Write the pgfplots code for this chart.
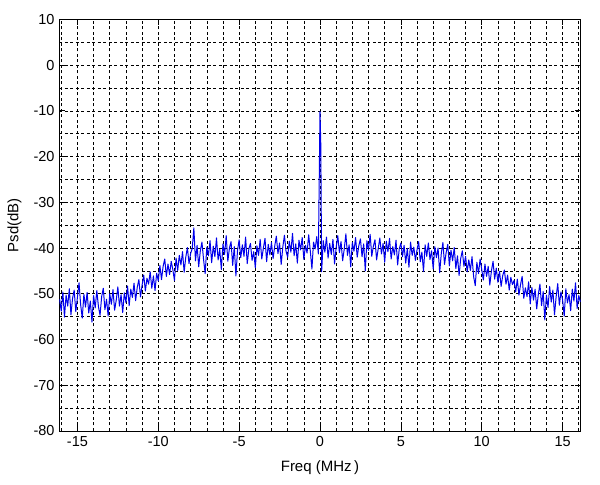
\documentclass[border=0pt]{standalone}
\usepackage{pgfplots}
\pgfplotsset{compat=1.18}
\usepackage{fontspec}
\setmainfont{Liberation Sans}
\begin{document}
\begin{tikzpicture}
\useasboundingbox (0,0) rectangle (600bp,485bp);
\begin{axis}[
  at={(59.3bp,54bp)}, anchor=south west,
  scale only axis, width=521.4bp, height=411.7bp,
  xmin=-16.12, xmax=16.12, ymin=-80, ymax=10,
  xtick={-15,-10,...,15}, ytick={-80,-70,...,10},
  minor xtick={-16,-14,-13,-12,-11,-9,-8,-7,-6,-4,-3,-2,-1,1,2,3,4,6,7,8,9,11,12,13,14,16},
  minor ytick={-75,-65,...,5},
  grid=both,
  major grid style={black, dash pattern=on 3bp off 2.5bp, line width=0.55bp},
  minor grid style={black, dash pattern=on 3bp off 2.5bp, line width=0.55bp},
  tick align=inside, xtick pos=both, ytick pos=both,
  major tick length=5.5bp, minor tick length=0bp,
  axis line style={black, line width=0.7bp},
  tick style={black, line width=0.7bp},
  /pgf/number format/assume math mode=true,
  ticklabel style={font=\fontsize{14.5bp}{16bp}\selectfont},
  xticklabel style={yshift=-2bp},
  yticklabel style={xshift=-1.3bp},
  xlabel={Freq (MHz\,)}, ylabel={Psd(dB)},
  label style={font=\fontsize{15bp}{17bp}\selectfont},
  xlabel style={at={(axis description cs:0.5,-0.0972)}, anchor=base},
  ylabel style={at={(axis description cs:-0.0786,0.5)}, anchor=base, rotate=0},
]
\addplot[color={rgb,255:red,0;green,0;blue,235}, line width=1bp, line join=round, mark=none] table {
x y
-16.1 -51.2
-16.0 -53.8
-15.9 -49.6
-15.8 -55.1
-15.7 -50.3
-15.6 -52.7
-15.5 -48.9
-15.4 -54.6
-15.3 -51.0
-15.2 -49.2
-15.1 -53.9
-15.0 -50.8
-14.9 -47.6
-14.8 -52.4
-14.7 -55.3
-14.6 -50.1
-14.5 -52.9
-14.4 -49.7
-14.3 -54.2
-14.2 -51.6
-14.1 -56.2
-14.0 -50.4
-13.9 -53.1
-13.8 -49.3
-13.7 -52.8
-13.6 -54.7
-13.5 -50.6
-13.4 -48.8
-13.3 -53.5
-13.2 -51.2
-13.1 -54.9
-13.0 -50.0
-12.9 -52.3
-12.8 -49.1
-12.7 -53.6
-12.6 -51.4
-12.5 -48.5
-12.4 -52.7
-12.3 -50.2
-12.2 -54.1
-12.1 -49.8
-12.0 -51.9
-11.9 -48.3
-11.8 -52.6
-11.7 -49.0
-11.6 -50.8
-11.5 -47.7
-11.4 -51.5
-11.3 -48.6
-11.2 -46.9
-11.1 -50.7
-11.0 -48.1
-10.9 -45.9
-10.8 -49.4
-10.7 -46.6
-10.6 -47.9
-10.5 -45.2
-10.4 -48.8
-10.3 -46.1
-10.2 -49.3
-10.1 -45.5
-10.0 -47.2
-9.9 -43.8
-9.8 -46.9
-9.7 -44.0
-9.6 -42.4
-9.5 -46.2
-9.4 -43.5
-9.3 -45.8
-9.2 -42.9
-9.1 -44.7
-9.0 -47.1
-8.9 -42.2
-8.8 -44.9
-8.7 -41.6
-8.6 -43.7
-8.5 -40.8
-8.4 -45.3
-8.3 -42.0
-8.2 -39.9
-8.1 -43.4
-8.0 -41.2
-7.9 -40.1
-7.8 -35.6
-7.7 -42.8
-7.6 -39.4
-7.5 -44.1
-7.4 -40.6
-7.3 -38.7
-7.2 -42.5
-7.1 -45.6
-7.0 -39.8
-6.9 -41.7
-6.8 -38.4
-6.7 -43.2
-6.6 -39.6
-6.5 -41.9
-6.4 -37.8
-6.3 -42.6
-6.2 -40.3
-6.1 -44.7
-6.0 -39.1
-5.9 -41.4
-5.8 -37.3
-5.7 -42.9
-5.6 -40.0
-5.5 -38.6
-5.4 -43.8
-5.3 -39.7
-5.2 -46.1
-5.1 -40.5
-5.0 -38.2
-4.9 -42.1
-4.8 -39.3
-4.7 -41.8
-4.6 -37.6
-4.5 -43.4
-4.4 -40.2
-4.3 -39.0
-4.2 -42.7
-4.1 -40.8
-4.0 -44.3
-3.9 -39.5
-3.8 -41.6
-3.7 -38.1
-3.6 -42.4
-3.5 -40.0
-3.4 -37.9
-3.3 -43.0
-3.2 -39.2
-3.1 -41.5
-3.0 -38.8
-2.9 -42.3
-2.8 -39.6
-2.7 -37.4
-2.6 -41.2
-2.5 -38.9
-2.4 -43.6
-2.3 -39.8
-2.2 -37.2
-2.1 -40.7
-2.0 -42.0
-1.9 -38.5
-1.8 -40.9
-1.7 -36.8
-1.6 -41.7
-1.5 -39.1
-1.4 -43.3
-1.3 -38.3
-1.2 -40.4
-1.1 -37.7
-1.0 -42.5
-0.9 -39.4
-0.8 -41.1
-0.7 -37.1
-0.6 -40.6
-0.5 -44.6
-0.4 -38.7
-0.3 -40.2
-0.2 -37.5
-0.1 -41.3
0.0 -10.2
0.05 -17.5
0.1 -45.2
0.2 -38.4
0.3 -40.9
0.4 -37.6
0.5 -42.2
0.6 -39.0
0.7 -41.4
0.8 -38.1
0.9 -43.5
1.0 -39.9
1.1 -37.3
1.2 -41.0
1.3 -38.6
1.4 -42.8
1.5 -40.2
1.6 -36.9
1.7 -41.6
1.8 -39.3
1.9 -44.1
2.0 -38.8
2.1 -40.7
2.2 -37.7
2.3 -42.0
2.4 -39.5
2.5 -38.0
2.6 -41.9
2.7 -39.1
2.8 -45.0
2.9 -38.4
3.0 -40.5
3.1 -37.0
3.2 -41.8
3.3 -39.6
3.4 -38.2
3.5 -42.6
3.6 -40.1
3.7 -37.8
3.8 -41.3
3.9 -39.0
4.0 -43.1
4.1 -38.5
4.2 -40.8
4.3 -37.9
4.4 -42.4
4.5 -39.7
4.6 -41.5
4.7 -38.3
4.8 -43.7
4.9 -40.2
5.0 -38.9
5.1 -41.9
5.2 -39.4
5.3 -43.3
5.4 -40.1
5.5 -44.2
5.6 -38.7
5.7 -41.6
5.8 -39.8
5.9 -42.7
6.0 -40.4
6.1 -38.6
6.2 -43.0
6.3 -40.9
6.4 -45.1
6.5 -39.3
6.6 -41.8
6.7 -38.9
6.8 -42.5
6.9 -40.6
7.0 -44.6
7.1 -39.7
7.2 -42.1
7.3 -40.0
7.4 -45.4
7.5 -41.2
7.6 -38.8
7.7 -43.6
7.8 -41.0
7.9 -39.2
8.0 -43.9
8.1 -40.5
8.2 -42.8
8.3 -39.9
8.4 -44.5
8.5 -41.7
8.6 -46.0
8.7 -42.3
8.8 -40.6
8.9 -44.0
9.0 -41.8
9.1 -45.2
9.2 -42.6
9.3 -44.9
9.4 -41.9
9.5 -46.3
9.6 -48.2
9.7 -43.1
9.8 -45.6
9.9 -42.4
10.0 -44.7
10.1 -47.0
10.2 -43.5
10.3 -46.2
10.4 -44.0
10.5 -48.1
10.6 -45.0
10.7 -42.9
10.8 -46.8
10.9 -44.4
11.0 -47.5
11.1 -45.1
11.2 -48.4
11.3 -46.0
11.4 -44.8
11.5 -47.9
11.6 -45.9
11.7 -49.2
11.8 -46.4
11.9 -48.0
12.0 -47.1
12.1 -49.6
12.2 -46.8
12.3 -50.3
12.4 -48.0
12.5 -46.2
12.6 -51.0
12.7 -48.7
12.8 -50.6
12.9 -47.4
13.0 -52.2
13.1 -48.6
13.2 -51.4
13.3 -49.0
13.4 -53.3
13.5 -50.1
13.6 -47.9
13.7 -52.6
13.8 -49.5
13.9 -55.7
14.0 -50.3
14.1 -53.0
14.2 -48.4
14.3 -51.8
14.4 -49.2
14.5 -54.6
14.6 -50.7
14.7 -47.8
14.8 -52.5
14.9 -49.6
15.0 -51.3
15.1 -54.9
15.2 -48.9
15.3 -52.0
15.4 -50.2
15.5 -53.7
15.6 -49.0
15.7 -51.6
15.8 -47.6
15.9 -53.2
16.0 -50.4
16.1 -51.8
};
\end{axis}
\end{tikzpicture}
\end{document}
